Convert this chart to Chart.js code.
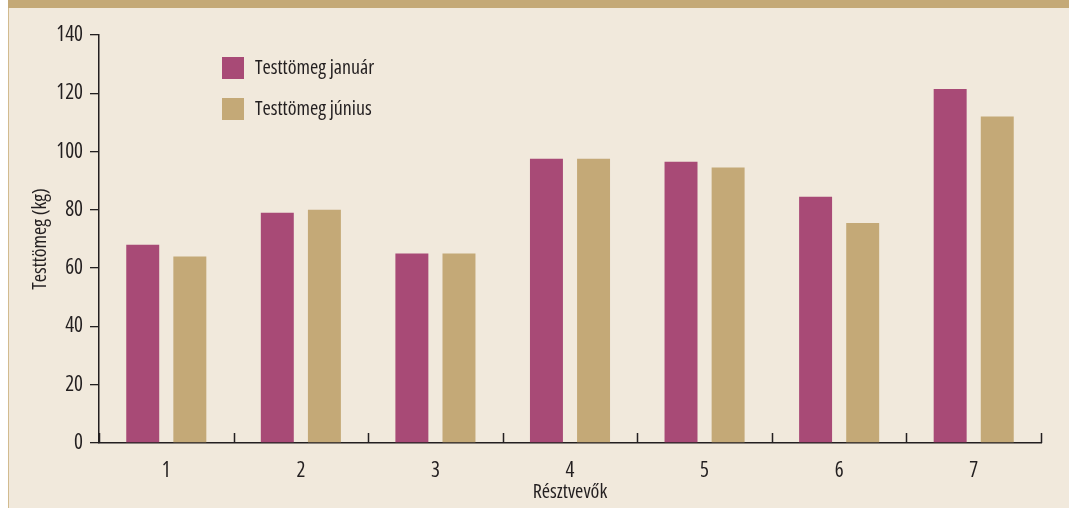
<!DOCTYPE html>
<html lang="hu">
<head>
<meta charset="utf-8">
<title>Testtömeg</title>
<script src="https://cdn.jsdelivr.net/npm/chart.js@4.4.1/dist/chart.umd.min.js"></script>
<style>
  html, body { margin: 0; padding: 0; background: #ffffff; }
  #chart { position: absolute; left: 0; top: 0; }
</style>
</head>
<body>
<canvas id="chart" width="1069" height="508"></canvas>
<script>
// Adatok
const resztvevok = ['1', '2', '3', '4', '5', '6', '7'];
const testtomegJanuar = [68, 79, 65, 97.5, 96.5, 84.5, 121.5];
const testtomegJunius = [64, 80, 65, 97.5, 94.5, 75.5, 112];
const yTicks = [0, 20, 40, 60, 80, 100, 120, 140];

// keskeny betű: Open Sans condensed (a "weight" mezőbe kerül a font-stretch is)
const FAMILY = "'Open Sans', sans-serif";
const STRETCH = '500 condensed';
const INK = '#231f20';
const CREAM = '#f1e9dc';
const TAN = '#c4a977';
const MAGENTA = '#a84a76';

// háttér: krém mező, felső sáv, bal szegély
const hatter = {
  id: 'hatter',
  beforeDraw(chart) {
    const ctx = chart.ctx;
    ctx.save();
    ctx.fillStyle = '#ffffff';
    ctx.fillRect(0, 0, chart.width, chart.height);
    ctx.fillStyle = CREAM;
    ctx.fillRect(8, 0, chart.width - 8, chart.height);
    ctx.fillStyle = TAN;
    ctx.fillRect(8, 0, chart.width - 8, 8);
    ctx.fillStyle = '#d2bb8f';
    ctx.fillRect(8, 8, 1, chart.height - 8);
    ctx.restore();
  }
};

// x tengely: felfelé álló osztásjelek a kategóriák határán
const xOsztas = {
  id: 'xOsztas',
  afterDraw(chart) {
    const xs = chart.scales.x;
    const ctx = chart.ctx;
    const y = chart.chartArea.bottom;
    const n = resztvevok.length;
    const xs0 = [xs.left];
    for (let i = 1; i < n; i++) {
      xs0.push((xs.getPixelForValue(i - 1) + xs.getPixelForValue(i)) / 2);
    }
    xs0.push(xs.right);
    ctx.save();
    ctx.strokeStyle = INK;
    ctx.lineWidth = 1.5;
    ctx.beginPath();
    xs0.forEach(x => {
      const px = Math.round(x) + 0.5;
      ctx.moveTo(px, y);
      ctx.lineTo(px, y - 10);
    });
    ctx.stroke();
    ctx.restore();
  }
};

// jelmagyarázat a rajzterület bal felső részén
const jelmagyarazat = {
  id: 'jelmagyarazat',
  afterDraw(chart) {
    const ctx = chart.ctx;
    ctx.save();
    ctx.font = STRETCH + ' 20px ' + FAMILY;
    ctx.textBaseline = 'middle';
    chart.data.datasets.forEach((ds, i) => {
      const top = 57 + i * 41;
      ctx.fillStyle = ds.backgroundColor;
      ctx.fillRect(222, top, 22, 22);
      ctx.fillStyle = INK;
      ctx.fillText(ds.label, 255, top + 11);
    });
    ctx.restore();
  }
};

new Chart(document.getElementById('chart'), {
  type: 'bar',
  data: {
    labels: resztvevok,
    datasets: [
      { label: 'Testtömeg január', data: testtomegJanuar, backgroundColor: MAGENTA },
      { label: 'Testtömeg június', data: testtomegJunius, backgroundColor: TAN }
    ]
  },
  options: {
    responsive: false,
    devicePixelRatio: 1,
    animation: false,
    categoryPercentage: 0.7,
    barPercentage: 0.7,
    layout: { padding: { left: 8, right: 28, top: 35, bottom: 0 } },
    plugins: {
      legend: { display: false },
      tooltip: { enabled: false }
    },
    scales: {
      x: {
        grid: { display: false },
        border: { display: true, color: INK, width: 1.5 },
        ticks: { color: INK, font: { family: FAMILY, weight: STRETCH, size: 21 }, padding: 7 },
        title: {
          display: true,
          text: 'Résztvevők',
          color: INK,
          font: { family: FAMILY, weight: STRETCH, size: 20 },
          padding: { top: 0, bottom: 4 }
        },
        afterFit(scale) { scale.height = 65; }
      },
      y: {
        min: 0,
        max: 140,
        afterBuildTicks(scale) { scale.ticks = yTicks.map(v => ({ value: v })); },
        grid: {
          drawOnChartArea: false,
          drawTicks: true,
          tickLength: 9,
          color: INK,
          lineWidth: 1.3
        },
        border: { display: true, color: INK, width: 1.5 },
        ticks: { color: INK, font: { family: FAMILY, weight: STRETCH, size: 21 }, padding: 7 },
        title: {
          display: true,
          text: 'Testtömeg (kg)',
          color: INK,
          font: { family: FAMILY, weight: STRETCH, size: 20 },
          padding: { top: 20, bottom: 0 }
        },
        afterFit(scale) { scale.width = 91; }
      }
    }
  },
  plugins: [hatter, xOsztas, jelmagyarazat]
});
</script>
</body>
</html>
